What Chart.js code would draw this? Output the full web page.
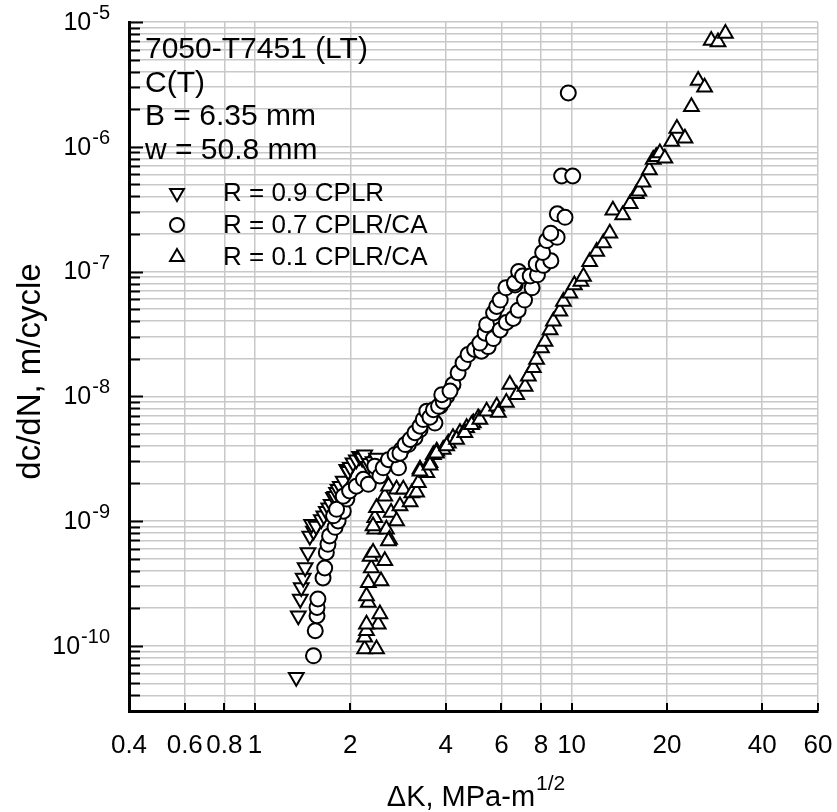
<!DOCTYPE html>
<html>
<head>
<meta charset="utf-8">
<script src="https://cdn.jsdelivr.net/npm/chart.js@4/dist/chart.umd.min.js"></script>
<style>
  html, body { margin: 0; padding: 0; background: #fff; }
  #wrap { width: 837px; height: 812px; }
</style>
</head>
<body>
<div id="wrap"><canvas id="chart" width="837" height="812"></canvas></div>
<script>
// ---- data ----
const xTickVals = [0.4, 0.6, 0.8, 1, 2, 4, 6, 8, 10, 20, 40, 60];
const xTickLabels = ['0.4', '0.6', '0.8', '1', '2', '4', '6', '8', '10', '20', '40', '60'];
const yDecades = [-10, -9, -8, -7, -6, -5];

// R = 0.9 CPLR
const dkR09 = [1.35, 1.37, 1.39, 1.40, 1.42, 1.44, 1.47, 1.49, 1.53, 1.51, 1.56, 1.62, 1.65, 1.68, 1.71, 1.74, 1.77, 1.79,
  1.81, 1.83, 1.86, 1.90, 1.95, 1.97, 2.00, 2.04, 2.09, 2.14, 2.18, 2.22, 2.28, 2.30, 2.36, 2.42, 2.54];
const rateR09 = [5.6e-11, 1.74e-10, 2.37e-10, 2.93e-10, 3.5e-10, 4.24e-10, 5.6e-10, 7.6e-10, 8.3e-10, 9.4e-10, 9.1e-10, 1.03e-9, 1.1e-9, 1.2e-9, 1.28e-9, 1.36e-9, 1.55e-9, 1.58e-9,
  1.7e-9, 1.8e-9, 1.9e-9, 2.09e-9, 2.6e-9, 2.5e-9, 2.7e-9, 2.93e-9, 3.1e-9, 3.3e-9, 3.2e-9, 3.4e-9, 2.75e-9, 2.9e-9, 3.0e-9, 3.2e-9, 2.75e-9];

// R = 0.7 CPLR/CA
const dkR07 = [1.53, 1.55, 1.57, 1.57, 1.58, 1.64, 1.66, 1.68, 1.70, 1.72, 1.79, 1.83, 1.90, 1.95, 1.77, 1.81, 1.90, 1.99,
  2.09, 2.20, 2.28, 2.39, 2.48, 2.54, 2.64, 2.84, 2.77, 2.90, 3.05, 3.20, 3.32, 3.49, 3.66, 3.84, 4.03, 4.22,
  2.87, 2.98, 3.09, 3.20, 3.32, 3.40, 3.70, 3.49, 3.57, 3.66, 3.80, 3.93, 3.89, 4.13, 4.38, 4.54, 4.71, 4.94,
  5.19, 5.45, 5.13, 5.33, 5.39, 5.66, 5.95, 6.22, 6.54, 6.78, 5.67, 5.80, 5.95, 6.20, 6.63, 7.10, 7.50, 6.60,
  6.80, 7.00, 7.40, 7.80, 7.73, 8.14, 8.60, 8.10, 8.34, 9.00, 8.59, 9.01, 9.53, 9.30, 10.08, 9.76];
const rateR07 = [8.3e-11, 1.32e-10, 1.74e-10, 2.03e-10, 2.37e-10, 3.5e-10, 4.2e-10, 5.6e-10, 6.5e-10, 7.6e-10, 8.9e-10, 1.0e-9, 1.2e-9, 1.5e-9, 1.1e-9, 1.24e-9, 1.58e-9, 1.74e-9,
  1.9e-9, 2.16e-9, 1.97e-9, 2.75e-9, 2.3e-9, 2.67e-9, 3.1e-9, 2.67e-9, 3.4e-9, 3.75e-9, 4.1e-9, 4.65e-9, 5.4e-9, 6.9e-9, 6.3e-9, 8.3e-9, 1.0e-8, 1.24e-8,
  3.5e-9, 4.1e-9, 4.5e-9, 5.1e-9, 5.75e-9, 6.5e-9, 6.1e-9, 7.6e-9, 6.8e-9, 7.8e-9, 8.3e-9, 9.1e-9, 1.03e-8, 1.1e-8, 1.54e-8, 1.85e-8, 2.16e-8, 2.37e-8,
  2.3e-8, 2.5e-8, 2.67e-8, 3.2e-8, 3.75e-8, 2.9e-8, 3.4e-8, 3.9e-8, 4.2e-8, 4.9e-8, 4.65e-8, 5.25e-8, 5.9e-8, 7.4e-8, 7.8e-8, 5.9e-8, 7.4e-8, 8.1e-8,
  1.0e-7, 9.2e-8, 9.2e-8, 9.4e-8, 1.15e-7, 1.12e-7, 1.22e-7, 1.42e-7, 1.77e-7, 1.88e-7, 2.03e-7, 2.9e-7, 2.72e-7, 5.83e-7, 5.83e-7, 2.7e-6];

// R = 0.1 CPLR/CA
const dkR01 = [2.22, 2.42, 2.22, 2.25, 2.45, 2.48, 2.25, 2.28, 2.25, 2.28, 2.50, 2.33, 2.31, 2.36, 2.57, 2.39, 2.39, 2.60,
  2.66, 2.42, 2.57, 2.69, 2.80, 2.64, 2.64, 2.36, 2.80, 2.94, 2.87, 3.09, 3.13, 3.24, 3.28, 3.32, 3.49, 3.57,
  3.66, 3.75, 3.93, 4.08, 4.22, 4.44, 4.66, 4.89, 5.07, 3.32, 3.57, 3.74, 4.03, 4.33, 4.60, 4.83, 5.13, 5.39,
  5.80, 5.87, 6.22, 6.38, 6.71, 7.13, 7.30, 7.57, 7.75, 8.03, 8.24, 8.55, 8.76, 9.18, 9.42, 9.87, 10.2, 10.7,
  10.9, 11.4, 12.0, 12.6, 13.2, 13.5, 14.5, 15.3, 16.0, 16.3, 16.8, 17.6, 18.1, 18.5, 19.0, 19.7, 20.7, 21.5,
  22.8, 23.9, 25.1, 26.3, 27.6, 29.0, 30.6];
const rateR01 = [9.4e-11, 9.4e-11, 1.17e-10, 1.32e-10, 1.49e-10, 1.8e-10, 1.49e-10, 2.22e-10, 2.5e-10, 3.2e-10, 3.3e-10, 4.2e-10, 5.2e-10, 5.6e-10, 4.8e-10, 8.6e-10, 1.06e-9, 8.6e-10,
  7.1e-10, 1.28e-9, 1.58e-9, 1.17e-9, 1.0e-9, 1.9e-9, 6.9e-10, 9.1e-10, 1.8e-9, 1.8e-9, 1.32e-9, 1.42e-9, 1.68e-9, 1.7e-9, 2.03e-9, 2.6e-9, 2.44e-9, 2.93e-9,
  3.4e-9, 3.63e-9, 3.75e-9, 4.2e-9, 4.65e-9, 5.1e-9, 5.6e-9, 6.1e-9, 6.7e-9, 2.5e-9, 2.8e-9, 3.5e-9, 4.0e-9, 4.5e-9, 5.1e-9, 5.9e-9, 6.5e-9, 7.6e-9,
  8.3e-9, 7.4e-9, 8.9e-9, 1.24e-8, 1.03e-8, 1.2e-8, 1.45e-8, 1.69e-8, 1.97e-8, 2.44e-8, 2.75e-8, 3.4e-8, 4.0e-8, 4.8e-8, 5.75e-8, 6.7e-8, 7.8e-8, 8.3e-8,
  9.1e-8, 1.2e-7, 1.45e-7, 1.69e-7, 2.03e-7, 3.1e-7, 2.84e-7, 3.5e-7, 4.2e-7, 4.4e-7, 5.2e-7, 6.5e-7, 7.9e-7, 8.3e-7, 8.9e-7, 8.1e-7, 1.1e-6, 1.4e-6,
  1.17e-6, 2.09e-6, 3.4e-6, 3.0e-6, 7.1e-6, 6.9e-6, 8.1e-6];

const infoLines = ['7050-T7451 (LT)', 'C(T)', 'B = 6.35 mm', 'w = 50.8 mm'];
const legendLabels = ['R = 0.9 CPLR', 'R = 0.7 CPLR/CA', 'R = 0.1 CPLR/CA'];

// ---- helpers ----
const FONT = '"Liberation Sans", Arial, sans-serif';
const GRID = '#c8c8c8';

function toPoints(xs, ys) {
  return xs.map((x, i) => ({ x, y: ys[i] }));
}

// every 1..9 x 10^n between the axis limits
function yGridVals() {
  const out = [];
  for (let e = -11; e <= -5; e++) {
    for (let m = 1; m <= 9; m++) {
      const v = m * Math.pow(10, e);
      if (v >= 3e-11 * 0.999 && v <= 1e-5 * 1.001) out.push(v);
    }
  }
  return out;
}

function drawMarker(ctx, style, x, y, r) {
  ctx.beginPath();
  if (style === 'circle') {
    ctx.arc(x, y, r, 0, Math.PI * 2);
  } else {
    const dir = style === 'down' ? -1 : 1;
    ctx.moveTo(x, y - dir * r);
    ctx.lineTo(x + r * 0.866, y + dir * r * 0.5);
    ctx.lineTo(x - r * 0.866, y + dir * r * 0.5);
    ctx.closePath();
  }
  ctx.fillStyle = '#fff';
  ctx.fill();
  ctx.lineWidth = 2;
  ctx.strokeStyle = '#000';
  ctx.stroke();
}

const decorPlugin = {
  id: 'decor',
  beforeDatasetsDraw(chart) {
    const { ctx, chartArea: a, scales: { x, y } } = chart;
    ctx.save();
    ctx.strokeStyle = '#000';
    ctx.lineWidth = 2;
    // inward ticks on the left axis
    yGridVals().forEach(v => {
      const py = Math.round(y.getPixelForValue(v)) + 0.5;
      const major = Math.abs(Math.log10(v) - Math.round(Math.log10(v))) < 1e-6;
      ctx.beginPath();
      ctx.moveTo(a.left, py);
      ctx.lineTo(a.left + (major ? 14 : 11), py);
      ctx.stroke();
    });
    // inward ticks on the bottom axis
    xTickVals.forEach(v => {
      const px = Math.round(x.getPixelForValue(v));
      ctx.beginPath();
      ctx.moveTo(px, a.bottom);
      ctx.lineTo(px, a.bottom - 8);
      ctx.stroke();
    });
    ctx.restore();
  },
  afterDraw(chart) {
    const { ctx, chartArea: a, scales: { x, y } } = chart;
    ctx.save();
    ctx.fillStyle = '#000';

    // y tick labels 10^n
    yDecades.forEach(e => {
      const py = y.getPixelForValue(Math.pow(10, e));
      const exp = String(e);
      ctx.font = '20px ' + FONT;
      const ew = ctx.measureText(exp).width;
      const right = 110;
      ctx.textAlign = 'left';
      ctx.textBaseline = 'alphabetic';
      ctx.fillText(exp, right - ew, py - 3);
      ctx.font = '25px ' + FONT;
      ctx.textAlign = 'right';
      ctx.textBaseline = 'middle';
      ctx.fillText('10', right - ew - 1, py + 1);
    });

    // x tick labels
    ctx.font = '26px ' + FONT;
    ctx.textAlign = 'center';
    ctx.textBaseline = 'middle';
    xTickVals.forEach((v, i) => {
      ctx.fillText(xTickLabels[i], x.getPixelForValue(v), 746);
    });

    // x title with superscript
    ctx.font = '29px ' + FONT;
    const main = '\u0394K, MPa-m';
    const mw = ctx.measureText(main).width;
    ctx.font = '21px ' + FONT;
    const sw = ctx.measureText('1/2').width;
    const startX = (a.left + a.right) / 2 - (mw + sw) / 2 + 2;
    ctx.textAlign = 'left';
    ctx.textBaseline = 'alphabetic';
    ctx.font = '29px ' + FONT;
    ctx.fillText(main, startX, 806);
    ctx.font = '21px ' + FONT;
    ctx.fillText('1/2', startX + mw + 1, 790);

    // y title
    ctx.save();
    ctx.translate(31, (a.top + a.bottom) / 2 + 5);
    ctx.rotate(-Math.PI / 2);
    ctx.font = '33px ' + FONT;
    ctx.textAlign = 'center';
    ctx.textBaseline = 'middle';
    ctx.fillText('dc/dN, m/cycle', 0, 0);
    ctx.restore();

    // specimen info
    ctx.font = '30px ' + FONT;
    ctx.textAlign = 'left';
    ctx.textBaseline = 'alphabetic';
    infoLines.forEach((t, i) => ctx.fillText(t, 145, 58 + i * 33.7));

    // legend
    const styles = ['down', 'circle', 'up'];
    legendLabels.forEach((t, i) => {
      const cy = 193 + i * 32;
      drawMarker(ctx, styles[i], 177, cy, styles[i] === 'circle' ? 7 : 8);
      ctx.fillStyle = '#000';
      ctx.font = '26px ' + FONT;
      ctx.textBaseline = 'middle';
      ctx.fillText(t, 223, cy + 1);
    });
    ctx.restore();
  }
};

const markerBase = {
  backgroundColor: '#fff',
  borderColor: '#000',
  borderWidth: 2,
  showLine: false
};

new Chart(document.getElementById('chart').getContext('2d'), {
  type: 'scatter',
  data: {
    datasets: [
      { ...markerBase, label: legendLabels[0], data: toPoints(dkR09, rateR09), pointStyle: 'triangle', rotation: 180, pointRadius: 8.5, order: 3 },
      { ...markerBase, label: legendLabels[1], data: toPoints(dkR07, rateR07), pointStyle: 'circle', pointRadius: 7.5, order: 2 },
      { ...markerBase, label: legendLabels[2], data: toPoints(dkR01, rateR01), pointStyle: 'triangle', pointRadius: 8.5, order: 1 }
    ]
  },
  options: {
    responsive: false,
    animation: false,
    layout: { padding: { left: 0, top: 22, right: 19, bottom: 0 } },
    plugins: { legend: { display: false }, tooltip: { enabled: false } },
    elements: { point: { hoverRadius: 8 } },
    scales: {
      x: {
        type: 'logarithmic',
        min: 0.4,
        max: 60,
        afterBuildTicks: s => { s.ticks = xTickVals.map(v => ({ value: v })); },
        afterFit: s => { s.height = 101; },
        ticks: { display: false },
        grid: { color: GRID, lineWidth: 1.5, drawTicks: false },
        border: { color: '#000', width: 3 }
      },
      y: {
        type: 'logarithmic',
        min: 3e-11,
        max: 1e-5,
        afterBuildTicks: s => { s.ticks = yGridVals().map(v => ({ value: v })); },
        afterFit: s => { s.width = 129; },
        ticks: { display: false },
        grid: { color: GRID, lineWidth: 1.5, drawTicks: false },
        border: { color: '#000', width: 3 }
      }
    }
  },
  plugins: [decorPlugin]
});
</script>
</body>
</html>
